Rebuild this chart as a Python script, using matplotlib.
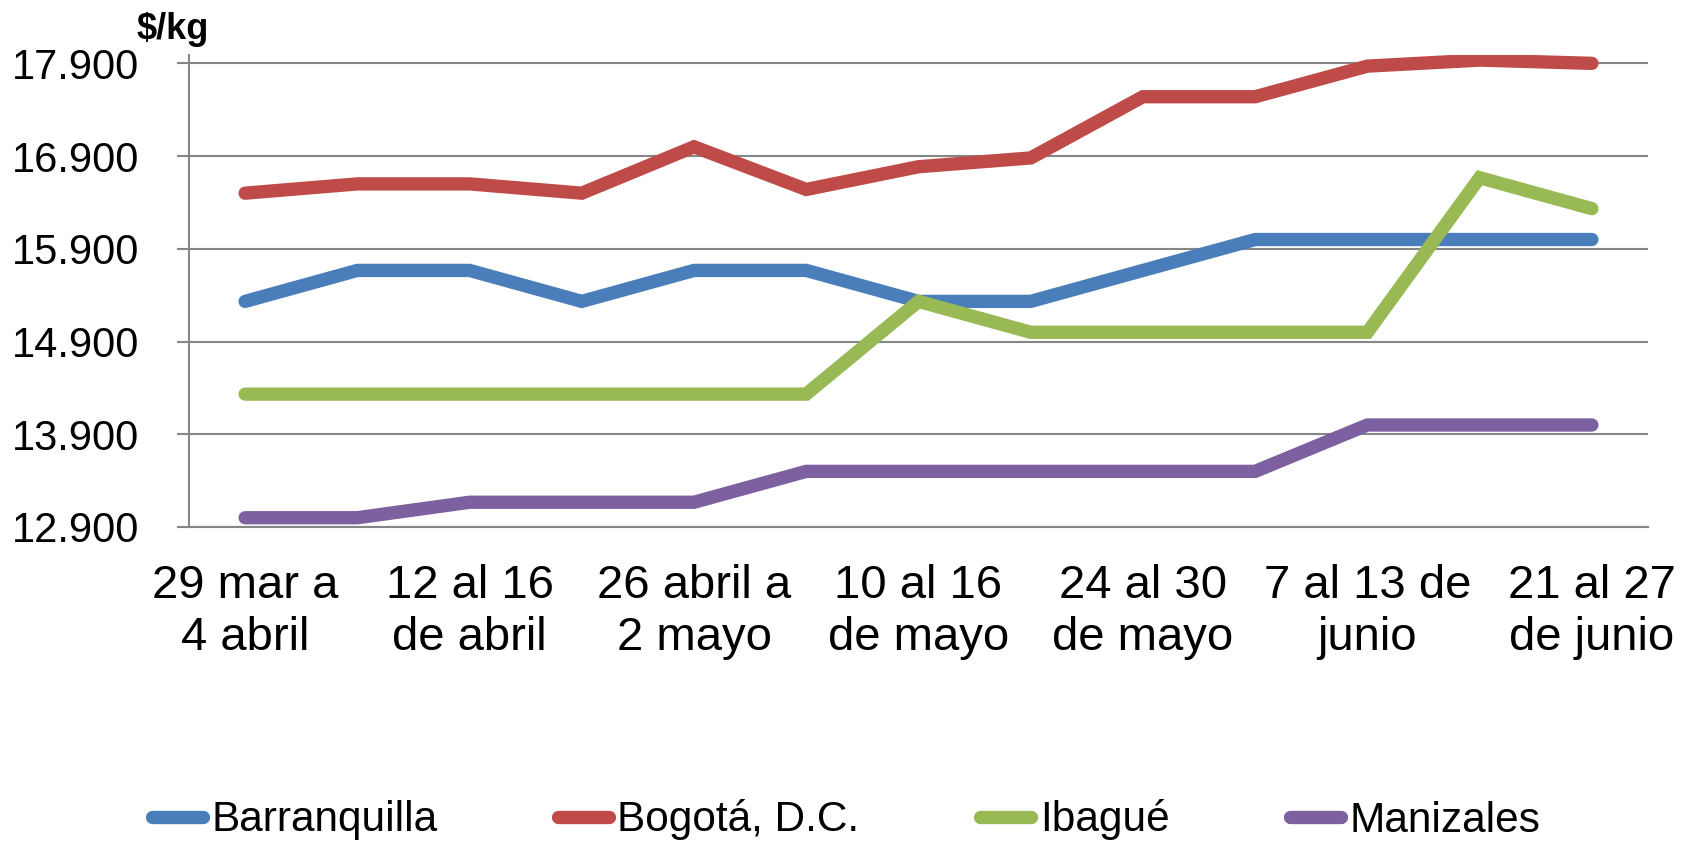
import matplotlib
matplotlib.use("Agg")
import matplotlib.pyplot as plt
from matplotlib.ticker import FuncFormatter

plt.rcParams['font.family'] = ['Liberation Sans', 'DejaVu Sans']

semanas = ["29 mar a\n4 abril", "5 al 11\nde abril", "12 al 16\nde abril", "19 al 25\nde abril",
           "26 abril a\n2 mayo", "3 al 9\nde mayo", "10 al 16\nde mayo", "17 al 23\nde mayo",
           "24 al 30\nde mayo", "31 mayo a\n6 junio", "7 al 13 de\njunio", "14 al 20\nde junio",
           "21 al 27\nde junio"]

barranquilla = [15333, 15667, 15667, 15333, 15667, 15667, 15333, 15333, 15667, 16000, 16000, 16000, 16000]
bogota = [16500, 16600, 16600, 16500, 17000, 16540, 16785, 16880, 17540, 17540, 17870, 17935, 17900]
ibague = [14333, 14333, 14333, 14333, 14333, 14333, 15333, 15000, 15000, 15000, 15000, 16667, 16333]
manizales = [13000, 13000, 13167, 13167, 13167, 13500, 13500, 13500, 13500, 13500, 14000, 14000, 14000]

series_names = ["Barranquilla", "Bogotá, D.C.", "Ibagué", "Manizales"]
series_values = [barranquilla, bogota, ibague, manizales]
colors = ["#4A7EBB", "#BE4B48", "#98B954", "#7D60A0"]

y_ticks = [12900, 13900, 14900, 15900, 16900, 17900]

fig = plt.figure(figsize=(16.92, 8.42), dpi=100)
ax = fig.add_axes([189/1692, 1-527/842, (1648-189)/1692, (527-55)/842])

x = list(range(len(semanas)))
for name, vals, c in zip(series_names, series_values, colors):
    ax.plot(x, vals, color=c, lw=9.6, solid_capstyle='round', solid_joinstyle='miter', label=name, zorder=3)

ax.set_xlim(-0.5, len(semanas) - 0.5)
ax.set_ylim(12900, 17990)
ax.set_yticks(y_ticks)
ax.yaxis.set_major_formatter(FuncFormatter(lambda v, p: f"{int(v):,}".replace(",", ".")))
ax.set_xticks(x[::2])
ax.set_xticklabels(semanas[::2], fontsize=34, linespacing=1.22)

ax.grid(axis='y', color='#868686', lw=1.5, zorder=1)
ax.set_axisbelow(True)
for s in ['top', 'right']:
    ax.spines[s].set_visible(False)
for s in ['left', 'bottom']:
    ax.spines[s].set_color('#868686')
    ax.spines[s].set_linewidth(1.5)

ax.tick_params(axis='y', length=8.6, width=1.5, color='#868686', labelsize=30, pad=27, direction='out')
ax.tick_params(axis='x', length=0, pad=27)

fig.text(137/1692, 1-39/842, "$/kg", fontsize=26, fontweight='bold', ha='left', va='baseline')

leg = fig.legend(loc='center left', bbox_to_anchor=(152/1692, 1-820/842), ncol=4, frameon=False,
                 fontsize=30.5, handlelength=1.2, handletextpad=0.2, columnspacing=2.85,
                 borderpad=0, borderaxespad=0)

fig.savefig("out.png", dpi=100)
